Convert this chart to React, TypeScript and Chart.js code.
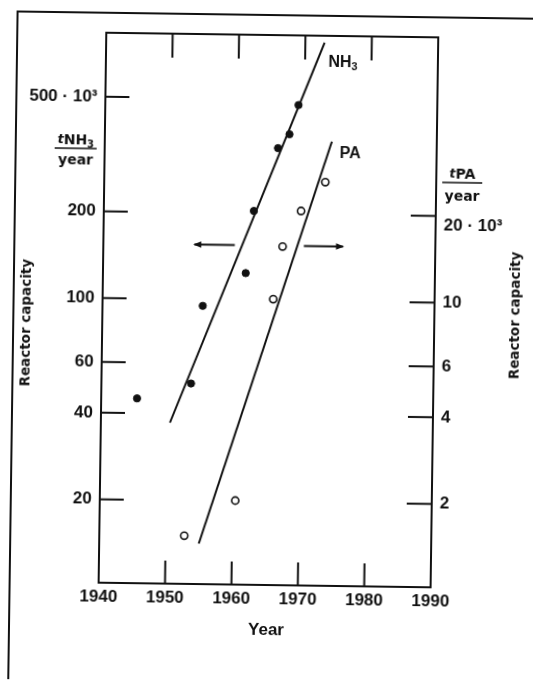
import React, { useEffect, useRef } from 'react';
import { Chart, registerables } from 'chart.js';

Chart.register(...registerables);

// ---------- data (capacities in 10^3 t / year) ----------
const YEAR_TICKS = [1940, 1950, 1960, 1970, 1980, 1990];
const LEFT_TICKS = [20, 40, 60, 100, 200, 500];
const LEFT_LABELS = ['20', '40', '60', '100', '200', '500 · 10³'];
const RIGHT_TICKS = [2, 4, 6, 10, 20];
const RIGHT_LABELS = ['2', '4', '6', '10', '20 · 10³'];

const NH3_YEARS = [1945.4, 1953.5, 1955.1, 1961.5, 1962.6, 1966.1, 1967.8, 1969.1];
const NH3_CAPACITY = [45, 51, 95, 124, 204, 338, 378, 478];
const NH3_TREND_YEARS = [1950.4, 1972.9];
const NH3_TREND = [37.2, 789];

const PA_YEARS = [1952.8, 1960.4, 1965.7, 1967.0, 1969.7, 1973.3];
const PA_CAPACITY = [1.51, 2.01, 10.1, 15.4, 20.5, 25.9];
const PA_TREND_YEARS = [1955.0, 1974.2];
const PA_TREND = [1.42, 35.8];

// annotation anchors (in data units)
const ARROW_LEVEL = 155;
const ARROW_LEFT = [1959.8, 1953.7];
const ARROW_RIGHT = [1970.2, 1976.1];
const NH3_LABEL_AT = [1973.5, 672];
const PA_LABEL_AT = [1975.4, 32.7];

const INK = '#111111';
const SANS = '"Liberation Sans", Arial, sans-serif';
const DEJAVU = '"DejaVu Sans", sans-serif';

type Part = { t: string; size: number; dy?: number; italic?: boolean; bold?: boolean; family?: string };

function fontOf(p: Part) {
  return `${p.italic ? 'italic ' : ''}${p.bold ? 'bold ' : ''}${p.size}px ${p.family || SANS}`;
}

function drawRich(ctx: CanvasRenderingContext2D, parts: Part[], x: number, y: number, align: 'left' | 'center' | 'right') {
  let total = 0;
  const widths = parts.map((p) => {
    ctx.font = fontOf(p);
    const w = ctx.measureText(p.t).width;
    total += w;
    return w;
  });
  let cx = align === 'left' ? x : align === 'center' ? x - total / 2 : x - total;
  ctx.textAlign = 'left';
  ctx.textBaseline = 'middle';
  parts.forEach((p, i) => {
    ctx.font = fontOf(p);
    ctx.fillText(p.t, cx, y + (p.dy || 0));
    cx += widths[i];
  });
}

function line(ctx: CanvasRenderingContext2D, x1: number, y1: number, x2: number, y2: number) {
  ctx.beginPath();
  ctx.moveTo(x1, y1);
  ctx.lineTo(x2, y2);
  ctx.stroke();
}

function arrow(ctx: CanvasRenderingContext2D, x1: number, x2: number, y: number) {
  line(ctx, x1, y, x2, y);
  const dir = Math.sign(x2 - x1);
  ctx.beginPath();
  ctx.moveTo(x2 + dir * 1, y);
  ctx.lineTo(x2 - dir * 7, y - 3.2);
  ctx.lineTo(x2 - dir * 7, y + 3.2);
  ctx.closePath();
  ctx.fill();
}

const decorPlugin = {
  id: 'decor',
  beforeDraw(chart: any) {
    const { ctx, width, height } = chart;
    ctx.save();
    ctx.fillStyle = '#ffffff';
    ctx.fillRect(0, 0, width, height);
    ctx.restore();
  },
  afterDraw(chart: any) {
    const { ctx, chartArea: a, scales } = chart;
    const xs = scales.x, ys = scales.y, ys2 = scales.y2;
    ctx.save();
    ctx.strokeStyle = INK;
    ctx.fillStyle = INK;
    ctx.lineCap = 'butt';

    // outer figure frame
    ctx.lineWidth = 2;
    line(ctx, 13, 15, chart.width, 15);
    line(ctx, 13, 14, 13, chart.height);

    // plot frame
    ctx.lineWidth = 2;
    ctx.strokeRect(a.left, a.top, a.right - a.left, a.bottom - a.top);

    // inward tick marks
    YEAR_TICKS.slice(1, -1).forEach((yr) => {
      const px = xs.getPixelForValue(yr);
      line(ctx, px, a.bottom, px, a.bottom - 23);
      line(ctx, px, a.top, px, a.top + 24);
    });
    LEFT_TICKS.forEach((v) => {
      const py = ys.getPixelForValue(v);
      line(ctx, a.left, py, a.left + 24, py);
    });
    RIGHT_TICKS.forEach((v) => {
      const py = ys2.getPixelForValue(v);
      line(ctx, a.right, py, a.right - 25, py);
    });

    // arrows pointing to the axes
    ctx.lineWidth = 1.8;
    const ay = ys.getPixelForValue(ARROW_LEVEL);
    arrow(ctx, xs.getPixelForValue(ARROW_LEFT[0]), xs.getPixelForValue(ARROW_LEFT[1]), ay);
    arrow(ctx, xs.getPixelForValue(ARROW_RIGHT[0]), xs.getPixelForValue(ARROW_RIGHT[1]), ay);

    // series labels
    drawRich(ctx, [{ t: 'NH', size: 16, bold: true }, { t: '3', size: 11, dy: 4, bold: true }],
      xs.getPixelForValue(NH3_LABEL_AT[0]), ys.getPixelForValue(NH3_LABEL_AT[1]), 'left');
    drawRich(ctx, [{ t: 'PA', size: 16, bold: true }],
      xs.getPixelForValue(PA_LABEL_AT[0]), ys2.getPixelForValue(PA_LABEL_AT[1]), 'left');

    // unit fractions
    ctx.lineWidth = 1.6;
    const lx = a.left - 29;
    drawRich(ctx, [{ t: 't', size: 13, italic: true, bold: true, family: DEJAVU }, { t: 'NH', size: 14, bold: true, family: DEJAVU }, { t: '3', size: 10, dy: 4, bold: true, family: DEJAVU }], lx, a.top + 108, 'center');
    line(ctx, lx - 21, a.top + 116, lx + 21, a.top + 116);
    drawRich(ctx, [{ t: 'year', size: 14, bold: true, family: DEJAVU }], lx, a.top + 128, 'center');

    const rx = a.right + 26;
    drawRich(ctx, [{ t: 't', size: 13, italic: true, bold: true, family: DEJAVU }, { t: 'PA', size: 14, bold: true, family: DEJAVU }], rx, a.top + 137, 'center');
    line(ctx, rx - 20, a.top + 145, rx + 20, a.top + 145);
    drawRich(ctx, [{ t: 'year', size: 14, bold: true, family: DEJAVU }], rx, a.top + 159, 'center');

    // axis titles
    ctx.font = `bold 13.5px ${DEJAVU}`;
    ctx.textAlign = 'center';
    ctx.textBaseline = 'middle';
    ctx.save();
    ctx.translate(26, (a.top + a.bottom) / 2 + 16);
    ctx.rotate(-Math.PI / 2);
    ctx.fillText('Reactor capacity', 0, 0);
    ctx.restore();
    ctx.save();
    ctx.translate(a.right + 81, (a.top + a.bottom) / 2 + 2);
    ctx.rotate(-Math.PI / 2);
    ctx.fillText('Reactor capacity', 0, 0);
    ctx.restore();

    ctx.font = `bold 17px ${SANS}`;
    ctx.fillText('Year', (a.left + a.right) / 2 + 2, a.bottom + 45);
    ctx.restore();
  },
};

const tickFont = { family: SANS, size: 17, weight: 'bold' as const };

export default function App() {
  const ref = useRef<HTMLCanvasElement>(null);

  useEffect(() => {
    if (!ref.current) return;
    const chart = new Chart(ref.current, {
      type: 'scatter',
      data: {
        datasets: [
          {
            label: 'NH3 trend',
            data: NH3_TREND_YEARS.map((x, i) => ({ x, y: NH3_TREND[i] })),
            yAxisID: 'y',
            showLine: true,
            borderColor: INK,
            borderWidth: 2,
            pointRadius: 0,
          },
          {
            label: 'NH3',
            data: NH3_YEARS.map((x, i) => ({ x, y: NH3_CAPACITY[i] })),
            yAxisID: 'y',
            pointRadius: 3.6,
            pointBackgroundColor: INK,
            pointBorderColor: INK,
            pointBorderWidth: 1,
          },
          {
            label: 'PA trend',
            data: PA_TREND_YEARS.map((x, i) => ({ x, y: PA_TREND[i] })),
            yAxisID: 'y2',
            showLine: true,
            borderColor: INK,
            borderWidth: 2,
            pointRadius: 0,
          },
          {
            label: 'PA',
            data: PA_YEARS.map((x, i) => ({ x, y: PA_CAPACITY[i] })),
            yAxisID: 'y2',
            pointRadius: 3.6,
            pointBackgroundColor: '#ffffff',
            pointBorderColor: INK,
            pointBorderWidth: 1.6,
          },
        ],
      },
      options: {
        responsive: false,
        animation: false,
        devicePixelRatio: 1,
        layout: { padding: { top: 35, left: 0, right: 0, bottom: 0 } },
        plugins: { legend: { display: false }, tooltip: { enabled: false } },
        scales: {
          x: {
            type: 'linear',
            position: 'bottom',
            min: 1940,
            max: 1990,
            afterBuildTicks: (s: any) => { s.ticks = YEAR_TICKS.map((v) => ({ value: v })); },
            afterFit: (s: any) => { s.height = 98; },
            ticks: { callback: (v: any) => String(v), font: tickFont, color: INK, padding: 4, autoSkip: false, maxRotation: 0 },
            grid: { display: false, drawTicks: false },
            border: { display: false },
          },
          y: {
            type: 'logarithmic',
            position: 'left',
            min: 10.27,
            max: 834,
            afterBuildTicks: (s: any) => { s.ticks = LEFT_TICKS.map((v) => ({ value: v })); },
            afterFit: (s: any) => { s.width = 102; },
            ticks: {
              callback: (v: any) => LEFT_LABELS[LEFT_TICKS.indexOf(Number(v))] ?? '',
              font: tickFont, color: INK, padding: 8, autoSkip: false,
            },
            grid: { display: false, drawTicks: false },
            border: { display: false },
          },
          y2: {
            type: 'logarithmic',
            position: 'right',
            min: 1.027,
            max: 83.4,
            afterBuildTicks: (s: any) => { s.ticks = RIGHT_TICKS.map((v) => ({ value: v })); },
            afterFit: (s: any) => { s.width = 99; },
            ticks: {
              callback: (v: any) => {
                const i = RIGHT_TICKS.indexOf(Number(v));
                return i === RIGHT_TICKS.length - 1 ? ['', RIGHT_LABELS[i]] : RIGHT_LABELS[i];
              },
              font: tickFont, color: INK, padding: 8, autoSkip: false,
            },
            grid: { display: false, drawTicks: false },
            border: { display: false },
          },
        },
      },
      plugins: [decorPlugin],
    } as any);
    return () => chart.destroy();
  }, []);

  return (
    <div style={{ position: 'fixed', left: 0, top: 0, width: 533, height: 683, background: '#fff', overflow: 'hidden' }}>
      <canvas
        ref={ref}
        width={533}
        height={683}
        style={{ display: 'block', width: 533, height: 683, transform: 'rotate(0.8deg)', transformOrigin: '50% 50%' }}
      />
    </div>
  );
}
